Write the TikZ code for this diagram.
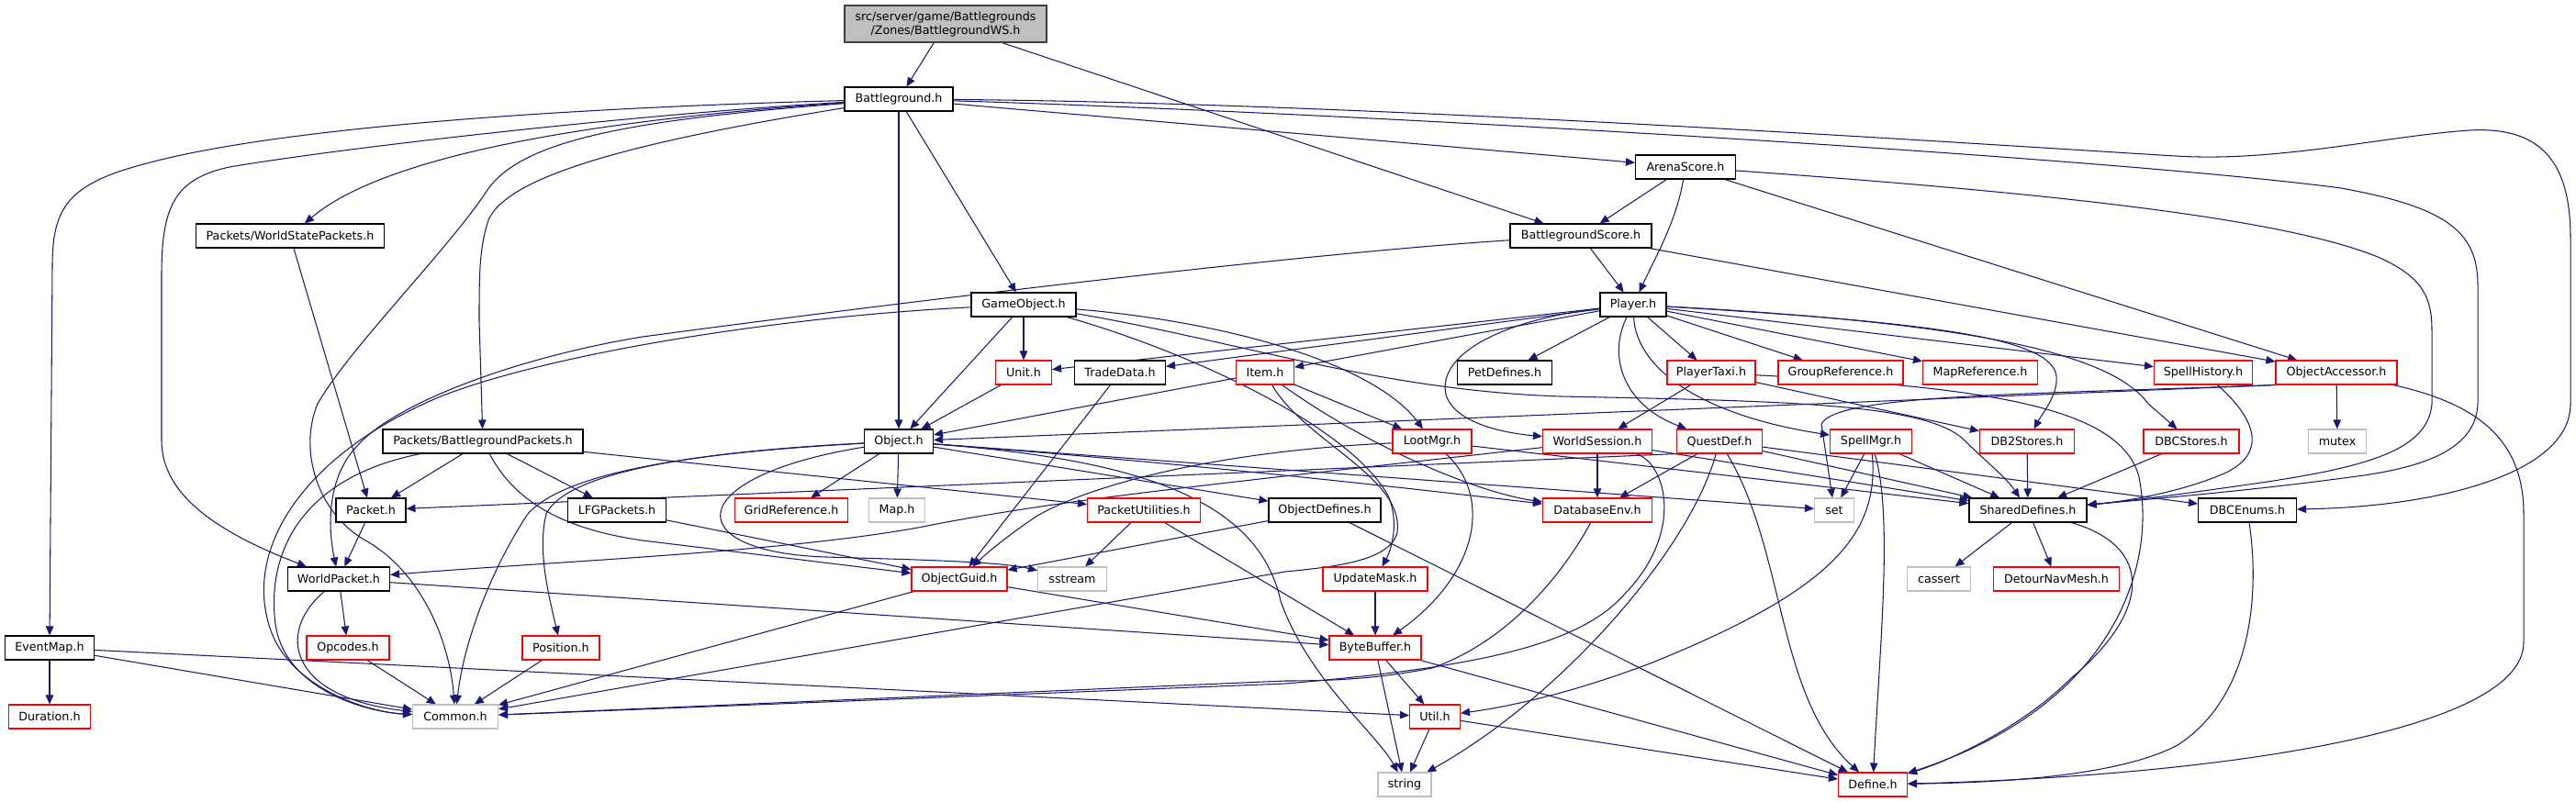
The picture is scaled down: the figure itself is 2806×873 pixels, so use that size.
\documentclass[tikz,border=0pt]{standalone}
\usepackage{fontspec}
\setmainfont{DejaVu Sans}
\usetikzlibrary{arrows.meta,backgrounds}
\definecolor{edgec}{HTML}{191970}
\definecolor{lgray}{HTML}{BFBFBF}
\definecolor{dgray}{HTML}{404040}
\begin{document}
\begin{tikzpicture}[x=1pt,y=-1pt,font=\fontsize{12.7}{15}\selectfont,
  nb/.style={draw=black,fill=white,line width=1.1pt,minimum height=26pt,inner sep=0pt,text=black},
  nr/.style={nb,draw=red},
  ng/.style={nb,draw=lgray},
  e/.style={draw=edgec,line width=1.05pt,-{Triangle[length=10pt,width=8.5pt]}}]
\useasboundingbox (0,0) rectangle (2806,873);
% ---------- nodes ----------
\node[nb,fill=lgray,draw=dgray,minimum width=220pt,minimum height=40pt,align=center] (root) at (1030,26) {src/server/game/Battlegrounds\\/Zones/BattlegroundWS.h};
\node[nb,minimum width=118pt] (bg) at (979,108) {Battleground.h};
\node[nb,minimum width=205pt] (wsp) at (316,257) {Packets/WorldStatePackets.h};
\node[nb,minimum width=109pt] (arena) at (1836,182) {ArenaScore.h};
\node[nb,minimum width=154pt] (bgscore) at (1722,257) {BattlegroundScore.h};
\node[nb,minimum width=114pt] (gameobj) at (1115,332) {GameObject.h};
\node[nb,minimum width=72pt] (player) at (1779,332) {Player.h};
\node[nr,minimum width=61pt] (unit) at (1115,406) {Unit.h};
\node[nb,minimum width=99pt] (trade) at (1220,406) {TradeData.h};
\node[nr,minimum width=63pt] (item) at (1378,406) {Item.h};
\node[nb,minimum width=103pt] (petdef) at (1639,406) {PetDefines.h};
\node[nr,minimum width=96pt] (taxi) at (1864,406) {PlayerTaxi.h};
\node[nr,minimum width=136pt] (groupref) at (2005,406) {GroupReference.h};
\node[nr,minimum width=125pt] (mapref) at (2157,406) {MapReference.h};
\node[nr,minimum width=107pt] (spellhist) at (2400,406) {SpellHistory.h};
\node[nr,minimum width=132pt] (objacc) at (2545,406) {ObjectAccessor.h};
\node[nb,minimum width=218pt] (bgpk) at (526,481) {Packets/BattlegroundPackets.h};
\node[nb,minimum width=75pt] (object) at (979,481) {Object.h};
\node[nr,minimum width=86pt] (lootmgr) at (1560,481) {LootMgr.h};
\node[nr,minimum width=119pt] (wsess) at (1740,481) {WorldSession.h};
\node[nr,minimum width=93pt] (questdef) at (1873,481) {QuestDef.h};
\node[nr,minimum width=89pt] (spellmgr) at (2038,481) {SpellMgr.h};
\node[nr,minimum width=103pt] (db2) at (2208,481) {DB2Stores.h};
\node[nr,minimum width=104pt] (dbc) at (2387,481) {DBCStores.h};
\node[ng,minimum width=63pt] (mutex) at (2546,481) {mutex};
\node[nb,minimum width=76pt] (packet) at (404,556) {Packet.h};
\node[nb,minimum width=107pt] (lfg) at (672,556) {LFGPackets.h};
\node[nr,minimum width=123pt] (gridref) at (862,556) {GridReference.h};
\node[ng,minimum width=61pt] (map) at (977,556) {Map.h};
\node[nr,minimum width=123pt] (pktutil) at (1246,556) {PacketUtilities.h};
\node[nb,minimum width=122pt] (objdef) at (1443,556) {ObjectDefines.h};
\node[nr,minimum width=119pt] (dbenv) at (1740,556) {DatabaseEnv.h};
\node[ng,minimum width=43pt] (set) at (1998,556) {set};
\node[nb,minimum width=128pt] (shared) at (2209,556) {SharedDefines.h};
\node[nb,minimum width=107pt] (dbcenums) at (2448,556) {DBCEnums.h};
\node[nb,minimum width=111pt] (worldpkt) at (369,631) {WorldPacket.h};
\node[nr,minimum width=104pt] (guid) at (1045,631) {ObjectGuid.h};
\node[ng,minimum width=75pt] (sstream) at (1168,631) {sstream};
\node[nr,minimum width=114pt] (updmask) at (1498,631) {UpdateMask.h};
\node[ng,minimum width=69pt] (cassert) at (2112,631) {cassert};
\node[nr,minimum width=137pt] (detour) at (2240,631) {DetourNavMesh.h};
\node[nb,minimum width=97pt] (eventmap) at (54,706) {EventMap.h};
\node[nr,minimum width=90pt] (opcodes) at (379,706) {Opcodes.h};
\node[nr,minimum width=84pt] (position) at (611,706) {Position.h};
\node[nr,minimum width=100pt] (bytebuf) at (1498,706) {ByteBuffer.h};
\node[nr,minimum width=89pt] (duration) at (54,781) {Duration.h};
\node[ng,minimum width=93pt] (common) at (496,781) {Common.h};
\node[nr,minimum width=55pt] (util) at (1563,781) {Util.h};
\node[ng,minimum width=58pt] (string) at (1530,855) {string};
\node[nr,minimum width=75pt] (define) at (2040,855) {Define.h};
% ---------- edges ----------
\begin{scope}[on background layer]
\fill[white] (0,0) rectangle (2806,873);
% root
\draw[e] (root) -- (bg);
\draw[e] (root) -- (bgscore);
% Battleground.h
\draw[e] (bg) .. controls (600,118) and (300,140) .. (160,178) .. controls (75,200) and (57,225) .. (57,290) -- (eventmap);
\draw[e] (bg) .. controls (700,124) and (380,160) .. (250,182) .. controls (190,195) and (176,225) .. (176,300) -- (176,480) .. controls (176,545) and (250,585) .. (worldpkt);
\draw[e] (bg) .. controls (700,127) and (430,160) .. (wsp);
\draw[e] (bg) .. controls (700,130) and (570,150) .. (531,207) .. controls (490,270) and (380,380) .. (346,440) .. controls (325,490) and (345,560) .. (400,590) .. controls (460,625) and (490,700) .. (common);
\draw[e] (bg) .. controls (700,153) and (553,190) .. (532,240) .. controls (522,270) and (522,300) .. (522,350) -- (bgpk);
\draw[e] (bg) -- (object);
\draw[e] (bg) -- (gameobj);
\draw[e] (bg) -- (arena);
\draw[e] (bg) .. controls (1500,124) and (2300,172) .. (2550,205) .. controls (2660,225) and (2699,250) .. (2699,310) -- (2699,440) .. controls (2697,490) and (2640,510) .. (2560,520) .. controls (2450,535) and (2330,545) .. (shared);
\draw[e] (bg) .. controls (1500,112) and (2200,160) .. (2370,170) .. controls (2480,177) and (2600,148) .. (2690,142) .. controls (2775,137) and (2800,185) .. (2800,260) -- (2800,440) .. controls (2800,515) and (2660,552) .. (dbcenums);
% WorldStatePackets
\draw[e] (wsp) -- (packet);
% ArenaScore
\draw[e] (arena) -- (bgscore);
\draw[e] (arena) .. controls (1826,240) and (1806,275) .. (player);
\draw[e] (arena) .. controls (2200,208) and (2480,235) .. (2590,280) .. controls (2640,302) and (2649,325) .. (2649,360) -- (2649,440) .. controls (2645,490) and (2580,508) .. (2470,525) .. controls (2380,538) and (2320,546) .. (shared);
\draw[e] (arena) -- (objacc);
% BattlegroundScore
\draw[e] (bgscore) -- (player);
\draw[e] (bgscore) -- (objacc);
\draw[e] (bgscore) .. controls (1400,277) and (900,340) .. (700,367) .. controls (560,390) and (430,440) .. (390,485) .. controls (360,515) and (355,565) .. (worldpkt);
% GameObject
\draw[e] (gameobj) .. controls (850,345) and (600,385) .. (480,432) .. controls (330,495) and (262,600) .. (296,690) .. controls (320,750) and (400,776) .. (common);
\draw[e] (gameobj) -- (unit);
\draw[e] (gameobj) -- (object);
\draw[e] (gameobj) .. controls (1350,352) and (1500,400) .. (lootmgr);
\draw[e] (gameobj) .. controls (1350,372) and (1500,425) .. (1700,432) .. controls (1950,437) and (2100,440) .. (2140,480) .. controls (2160,500) and (2185,520) .. (shared);
\draw[e] (gameobj) .. controls (1300,385) and (1470,465) .. (1512,540) .. controls (1525,570) and (1515,600) .. (updmask);
% Player
\draw[e] (player) -- (unit);
\draw[e] (player) -- (trade);
\draw[e] (player) -- (item);
\draw[e] (player) -- (petdef);
\draw[e] (player) .. controls (1640,348) and (1565,385) .. (1575,430) .. controls (1585,462) and (1640,472) .. (wsess);
\draw[e] (player) .. controls (1752,385) and (1765,440) .. (questdef);
\draw[e] (player) .. controls (1782,400) and (1850,452) .. (spellmgr);
\draw[e] (player) -- (taxi);
\draw[e] (player) -- (groupref);
\draw[e] (player) -- (mapref);
\draw[e] (player) -- (spellhist);
\draw[e] (player) .. controls (2120,352) and (2235,370) .. (2240,410) .. controls (2242,430) and (2225,450) .. (db2);
\draw[e] (player) .. controls (2150,352) and (2300,385) .. (2340,440) -- (dbc);
% PlayerTaxi
\draw[e] (taxi) -- (wsess);
\draw[e] (taxi) -- (db2);
\draw[e] (taxi) .. controls (2150,422) and (2310,440) .. (2330,520) .. controls (2350,620) and (2300,770) .. (define);
% WorldSession
\draw[e] (wsess) -- (dbenv);
\draw[e] (wsess) .. controls (1300,530) and (1150,545) .. (1000,575) .. controls (850,602) and (600,612) .. (worldpkt);
\draw[e] (wsess) .. controls (1815,505) and (1835,580) .. (1770,647) .. controls (1720,705) and (1600,728) .. (1400,745) -- (common);
\draw[e] (wsess) -- (shared);
% DatabaseEnv
\draw[e] (dbenv) .. controls (1700,630) and (1640,700) .. (1560,728) .. controls (1500,740) and (1450,742) .. (1400,742) -- (common);
% QuestDef
\draw[e] (questdef.south west) -- (packet);
\draw[e] (questdef) -- (dbenv);
\draw[e] (questdef) -- (shared);
\draw[e] (questdef) -- (dbcenums);
\draw[e] (questdef) .. controls (1840,600) and (1700,760) .. (string);
\draw[e] (questdef) .. controls (1945,600) and (1935,760) .. (define);
% SpellMgr
\draw[e] (spellmgr) -- (set);
\draw[e] (spellmgr) .. controls (2048,585) and (1990,645) .. (1800,722) .. controls (1700,760) and (1630,772) .. (util);
\draw[e] (spellmgr) .. controls (2062,560) and (2048,700) .. (define);
\draw[e] (spellmgr) -- (shared);
% DB2 / DBC
\draw[e] (db2) -- (shared);
\draw[e] (dbc) -- (shared);
% ObjectAccessor
\draw[e] (objacc) -- (mutex);
\draw[e] (objacc.south west) -- (object);
\draw[e] (objacc.south west) .. controls (2200,430) and (2000,430) .. (1984,462) -- (set);
\draw[e] (objacc) .. controls (2700,440) and (2749,480) .. (2749,560) -- (2749,700) .. controls (2749,800) and (2400,846) .. (define);
% SpellHistory
\draw[e] (spellhist) .. controls (2450,450) and (2475,490) .. (2425,515) .. controls (2380,535) and (2320,546) .. (shared);
% LootMgr
\draw[e] (lootmgr) .. controls (1350,490) and (1200,522) .. (1130,562) .. controls (1100,582) and (1078,600) .. (guid);
\draw[e] (lootmgr) .. controls (1625,540) and (1612,625) .. (bytebuf);
\draw[e] (lootmgr) -- (shared);
% Item
\draw[e] (item) -- (object);
\draw[e] (item) -- (lootmgr);
\draw[e] (item) .. controls (1480,480) and (1600,535) .. (dbenv);
\draw[e] (item) .. controls (1420,480) and (1530,520) .. (1522,580) .. controls (1515,612) and (1450,618) .. (1400,623) -- (common);
% Unit / TradeData
\draw[e] (unit) -- (object);
\draw[e] (trade) -- (guid);
% Object
\draw[e] (object) -- (gridref);
\draw[e] (object) -- (map);
\draw[e] (object) -- (objdef);
\draw[e] (object) .. controls (800,490) and (620,508) .. (595,560) .. controls (585,600) and (598,650) .. (position);
\draw[e] (object) .. controls (780,492) and (620,510) .. (575,560) .. controls (535,620) and (505,700) .. (common);
\draw[e] (object) .. controls (740,520) and (740,602) .. (900,607) .. controls (1000,610) and (1090,612) .. (sstream);
\draw[e] (object) .. controls (1230,500) and (1370,540) .. (1395,655) .. controls (1425,740) and (1500,800) .. (string);
\draw[e] (object) -- (set);
\draw[e] (object) .. controls (1300,505) and (1560,535) .. (dbenv);
% PacketUtilities / ObjectDefines / LFG
\draw[e] (pktutil) -- (sstream);
\draw[e] (pktutil) -- (bytebuf);
\draw[e] (objdef) -- (guid);
\draw[e] (objdef) -- (define);
\draw[e] (lfg) -- (guid);
% BattlegroundPackets
\draw[e] (bgpk) -- (packet);
\draw[e] (bgpk) -- (lfg);
\draw[e] (bgpk) -- (pktutil);
\draw[e] (bgpk) .. controls (560,545) and (610,576) .. (700,589) -- (guid);
\draw[e] (bgpk) .. controls (330,520) and (290,600) .. (300,680) .. controls (310,752) and (400,776) .. (common);
% Packet / WorldPacket
\draw[e] (packet) -- (worldpkt);
\draw[e] (worldpkt) -- (opcodes);
\draw[e] (worldpkt) .. controls (300,690) and (315,760) .. (common);
\draw[e] (worldpkt) -- (bytebuf);
% EventMap
\draw[e] (eventmap) -- (duration);
\draw[e] (eventmap) -- (common);
\draw[e] (eventmap) -- (util);
% others
\draw[e] (opcodes) -- (common);
\draw[e] (position) -- (common);
\draw[e] (guid) -- (common);
\draw[e] (guid) -- (bytebuf);
\draw[e] (updmask) -- (bytebuf);
\draw[e] (bytebuf) -- (util);
\draw[e] (bytebuf) -- (string);
\draw[e] (bytebuf) -- (define);
\draw[e] (util) -- (string);
\draw[e] (util) -- (define);
\draw[e] (shared) -- (cassert);
\draw[e] (shared) -- (detour);
\draw[e] (shared) .. controls (2345,595) and (2345,665) .. (2255,740) .. controls (2200,795) and (2120,830) .. (define);
\draw[e] (dbcenums) .. controls (2462,650) and (2452,760) .. (2372,812) .. controls (2300,850) and (2150,853) .. (define);
\end{scope}
\end{tikzpicture}
\end{document}
